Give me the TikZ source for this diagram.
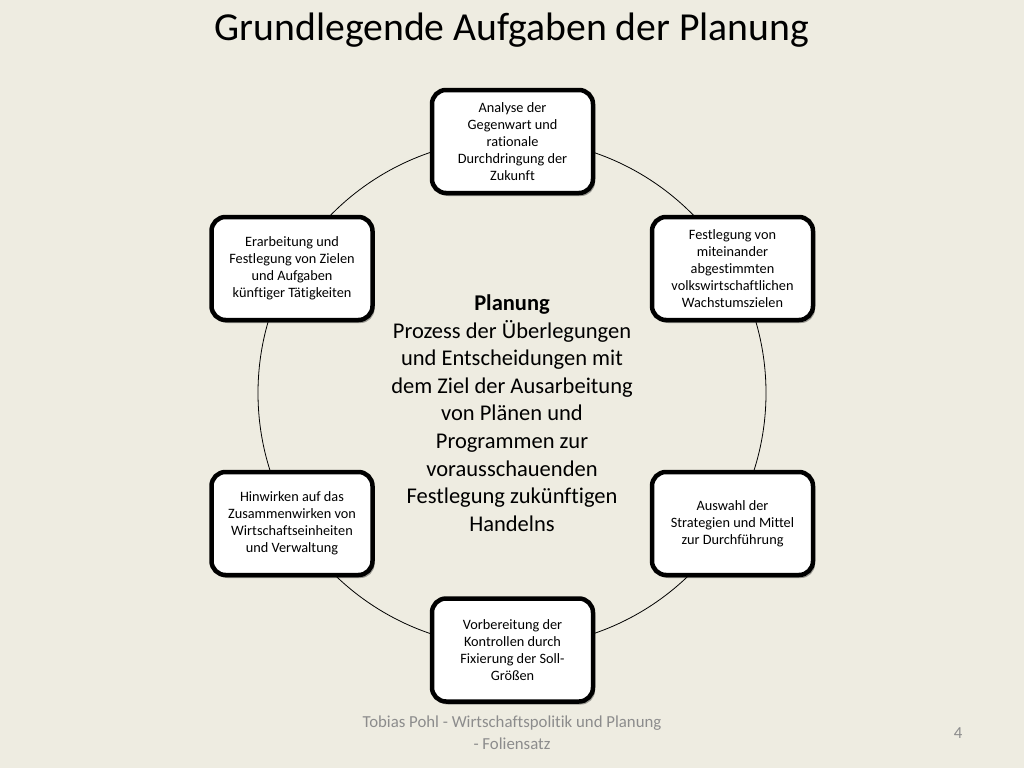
\documentclass[tikz,border=0pt]{standalone}
\usepackage{fontspec}
\setmainfont{Carlito}[Ligatures=NoCommon]
\usetikzlibrary{shadows}
\definecolor{bg}{HTML}{EEECE1}
\definecolor{foot}{HTML}{8C8C8C}
\begin{document}
\begin{tikzpicture}[x=1pt,y=-1pt,
  taskbox/.style={draw=black, line width=4.5pt, fill=white, rounded corners=14pt,
    minimum width=161pt, minimum height=103pt, align=center, inner sep=2pt,
    font=\fontsize{14.3}{17}\selectfont,
    drop shadow={shadow xshift=2pt, shadow yshift=-3pt, opacity=0.35, fill=black}},
  ring/.style={draw=black, line width=0.8pt},
  foottext/.style={text=foot, font=\fontsize{16.8}{22}\selectfont, align=center}]
\fill[bg] (0,0) rectangle (1024,768);
\useasboundingbox (0,0) rectangle (1024,768);
\node[font=\fontsize{39.7}{44}\selectfont] (title) at (512,30) {Grundlegende Aufgaben der Planung};
\coordinate (c) at (512,393);
\draw[ring] (c) circle[radius=254];
\node[taskbox] (b1) at (512.5,141.5) {Analyse der\\Gegenwart und\\rationale\\Durchdringung der\\Zukunft};
\node[taskbox] (b2) at (732.5,268.5) {Festlegung von\\miteinander\\abgestimmten\\volkswirtschaftlichen\\Wachstumszielen};
\node[taskbox] (b3) at (732.5,523.5) {Auswahl der\\Strategien und Mittel\\zur Durchführung};
\node[taskbox] (b4) at (512.5,650) {Vorbereitung der\\Kontrollen durch\\Fixierung der Soll-\\Größen};
\node[taskbox] (b5) at (292,523.5) {Hinwirken auf das\\Zusammenwirken von\\Wirtschaftseinheiten\\und Verwaltung};
\node[taskbox] (b6) at (292,268.5) {Erarbeitung und\\Festlegung von Zielen\\und Aufgaben\\künftiger Tätigkeiten};
\node[align=center, font=\fontsize{22.5}{27.6}\selectfont] (center) at (512,413)
  {\textbf{Planung}\\Prozess der Überlegungen\\und Entscheidungen mit\\dem Ziel der Ausarbeitung\\von Plänen und\\Programmen zur\\vorausschauenden\\Festlegung zukünftigen\\Handelns};
\node[foottext] (footer) at (512,733) {Tobias Pohl - Wirtschaftspolitik und Planung\\- Foliensatz};
\node[text=foot, font=\fontsize{16.8}{20}\selectfont] (page) at (958,733) {4};
\end{tikzpicture}
\end{document}
